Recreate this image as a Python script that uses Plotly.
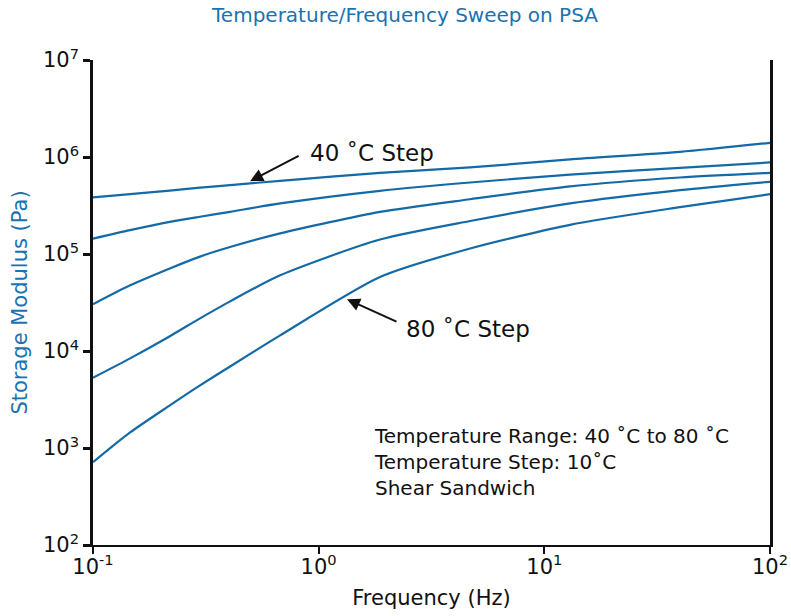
import math
import plotly.graph_objects as go

# Frequency (Hz)
freq = [0.1, 0.146, 0.219, 0.298, 0.405, 0.675, 1.87, 4.69, 13.0, 39.9, 100.0]

# Storage modulus (Pa) for each temperature step
g_40C = [3.83e5, 4.14e5, 4.50e5, 4.83e5, 5.13e5, 5.68e5, 6.87e5, 7.80e5, 9.44e5, 1.13e6, 1.40e6]
g_50C = [1.44e5, 1.76e5, 2.14e5, 2.42e5, 2.72e5, 3.32e5, 4.48e5, 5.46e5, 6.58e5, 7.73e5, 8.79e5]
g_60C = [3.03e4, 4.75e4, 7.10e4, 9.40e4, 1.18e5, 1.63e5, 2.72e5, 3.67e5, 4.97e5, 6.15e5, 6.87e5]
g_70C = [5.30e3, 8.39e3, 1.42e4, 2.17e4, 3.25e4, 6.03e4, 1.41e5, 2.19e5, 3.32e5, 4.55e5, 5.55e5]
g_80C = [713, 1.445e3, 2.75e3, 4.42e3, 6.93e3, 1.45e4, 5.79e4, 1.14e5, 2.00e5, 3.04e5, 4.14e5]

series = [("40 °C", g_40C), ("50 °C", g_50C), ("60 °C", g_60C), ("70 °C", g_70C), ("80 °C", g_80C)]

x_tickvals = [0.1, 1, 10, 100]
x_ticktext = ["10<sup>-1</sup>", "10<sup>0</sup>", "10<sup>1</sup>", "10<sup>2</sup>"]
y_tickvals = [1e2, 1e3, 1e4, 1e5, 1e6, 1e7]
y_ticktext = ["10<sup>2</sup>", "10<sup>3</sup>", "10<sup>4</sup>", "10<sup>5</sup>", "10<sup>6</sup>", "10<sup>7</sup>"]

LINE = "#136aa6"
TITLE_BLUE = "#1a72b0"
FONT = "DejaVu Sans"
INK = "#111111"

fig = go.Figure()
for name, vals in series:
    fig.add_trace(go.Scatter(x=freq, y=vals, mode="lines", name=name,
                             line=dict(color=LINE, width=2.2, shape="spline", smoothing=0.7),
                             showlegend=False, hoverinfo="skip"))

fig.update_layout(
    width=791, height=616,
    margin=dict(l=93, r=21, t=60, b=71, autoexpand=False),
    paper_bgcolor="white", plot_bgcolor="white",
    font=dict(family=FONT, color=INK),
    title=dict(text="Temperature/Frequency Sweep on PSA", x=0.512, xanchor="center",
               y=0.976, yanchor="middle",
               font=dict(family=FONT, size=20, color=TITLE_BLUE)),
)

fig.update_xaxes(
    type="log", range=[-1, 2], automargin=False,
    tickvals=x_tickvals, ticktext=x_ticktext,
    ticks="outside", ticklen=7, tickwidth=2, tickcolor=INK,
    showline=True, linecolor=INK, linewidth=2,
    showgrid=False, zeroline=False, ticklabelstandoff=-5,
    tickfont=dict(family=FONT, size=21, color=INK),
    title=dict(text="Frequency (Hz)", font=dict(family=FONT, size=21, color=INK), standoff=12),
)
fig.update_yaxes(
    type="log", range=[2, 7], automargin=False,
    tickvals=y_tickvals, ticktext=y_ticktext,
    ticks="outside", ticklen=7, tickwidth=2.5, tickcolor=INK,
    showline=True, linecolor=INK, linewidth=2.5, mirror=True,
    showgrid=False, zeroline=False,
    tickfont=dict(family=FONT, size=21, color=INK),
    title=dict(text="Storage Modulus (Pa)", font=dict(family=FONT, size=21, color=TITLE_BLUE), standoff=10),
)

# Arrows
fig.add_annotation(x=math.log10(0.497), y=5.751, xref="x", yref="y", text="",
                   showarrow=True, arrowhead=2, arrowsize=1.3, arrowwidth=2, arrowcolor=INK,
                   ax=50, ay=-26, axref="pixel", ayref="pixel", standoff=0)
fig.add_annotation(x=math.log10(1.335), y=4.533, xref="x", yref="y", text="",
                   showarrow=True, arrowhead=2, arrowsize=1.3, arrowwidth=2, arrowcolor=INK,
                   ax=51, ay=23, axref="pixel", ayref="pixel", standoff=0)

fig.add_annotation(x=-0.047, y=6.04, xref="x", yref="y", text="40 ˚C Step",
                   showarrow=False, xanchor="left", yanchor="middle",
                   font=dict(family=FONT, size=23, color=INK))
fig.add_annotation(x=0.378, y=4.225, xref="x", yref="y", text="80 ˚C Step",
                   showarrow=False, xanchor="left", yanchor="middle",
                   font=dict(family=FONT, size=23, color=INK))

fig.add_annotation(x=0.2363, y=3.263, xref="x", yref="y",
                   text="Temperature Range: 40 ˚C to 80 ˚C<br>Temperature Step: 10˚C<br>Shear Sandwich",
                   showarrow=False, xanchor="left", yanchor="top", align="left",
                   font=dict(family=FONT, size=20, color=INK))

fig.write_html("out.html", config={"displayModeBar": False},
               post_script="document.body.style.margin='0px';")
